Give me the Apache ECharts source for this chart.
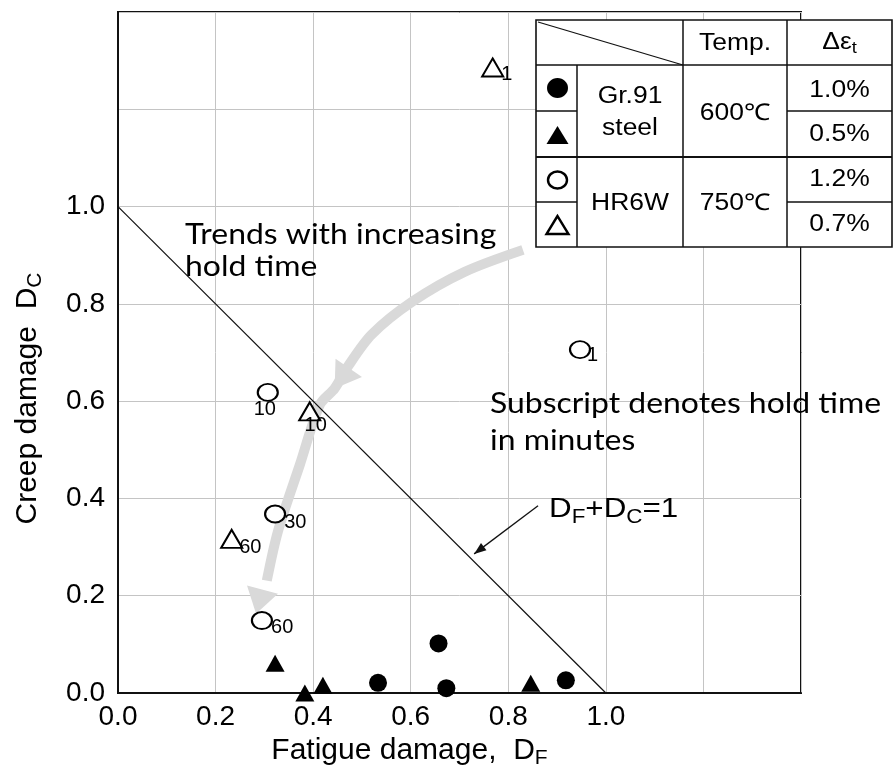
<!DOCTYPE html>
<html><head><meta charset="utf-8">
<script src="https://cdn.jsdelivr.net/npm/echarts@6/dist/echarts.min.js"></script>
<style>html,body{margin:0;padding:0;background:#fff}#c{width:893px;height:781px}</style>
</head><body><div id="c"></div>
<script>
// ---- data ----
const axisTicks = [0.0, 0.2, 0.4, 0.6, 0.8, 1.0];
const gr91Strain10X = [0.657, 0.533, 0.673, 0.918];
const gr91Strain10Y = [0.102, 0.021, 0.010, 0.026];
const gr91Strain05X = [0.322, 0.383, 0.420, 0.846];
const gr91Strain05Y = [0.061, 0.000, 0.016, 0.020];
const hr6wStrain12X = [0.947, 0.307, 0.322, 0.295];
const hr6wStrain12Y = [0.706, 0.618, 0.368, 0.149];
const hr6wStrain12Hold = ['1', '10', '30', '60'];
const hr6wStrain07X = [0.768, 0.393, 0.233];
const hr6wStrain07Y = [1.286, 0.579, 0.317];
const hr6wStrain07Hold = ['1', '10', '60'];
const ruleX = [0, 1];
const ruleY = [1, 0];
const trendX = [0.830, 0.711, 0.604, 0.520, 0.471, 0.444, 0.414, 0.373, 0.328, 0.305, 0.283];
const trendY = [0.911, 0.866, 0.805, 0.737, 0.671, 0.626, 0.593, 0.470, 0.333, 0.231, 0.163];
const ruleArrowX = [0.861, 0.730];
const ruleArrowY = [0.385, 0.286];

// ---- chart ----
const zip = (xs, ys) => xs.map((x, i) => [x, ys[i]]);
const FONT = '"Liberation Sans", Arial, sans-serif';
const CAL = 'Lato, "Open Sans", sans-serif';
const SX = 1.14;
const chart = echarts.init(document.getElementById('c'), null, {renderer: 'canvas'});

// label placement per point (style, not data)
const lab12 = [
  {position: 'right', distance: 0, offset: [-4, 6]},
  {position: 'bottom', distance: 0, offset: [-3, -2]},
  {position: 'right', distance: 0, offset: [-2, 8]},
  {position: 'right', distance: 0, offset: [-2, 7]}
];
const lab07 = [
  {position: 'right', distance: 0, offset: [-3, 7]},
  {position: 'bottom', distance: 0, offset: [6, -6]},
  {position: 'right', distance: 0, offset: [-4, 9]}
];
const labStyle = {fontFamily: FONT, fontSize: 20, color: '#000', textBorderWidth: 0};
const ELLIPSE = 'path://M0,10a10,10 0 1,0 20,0a10,10 0 1,0 -20,0z';

const axisLabelFmt = v => (v <= 1.0001 ? v.toFixed(1) : '');

chart.setOption({
  animation: false,
  backgroundColor: '#fff',
  grid: {left: 118, right: 92, top: 12, bottom: 88, show: true, borderColor: '#111', borderWidth: 2, backgroundColor: 'transparent'},
  xAxis: {
    type: 'value', min: 0, max: 1.4, interval: 0.2,
    axisLine: {show: true, onZero: false, lineStyle: {color: '#111', width: 2}},
    axisTick: {show: false},
    splitLine: {show: true, lineStyle: {color: '#c4c4c4', width: 1}},
    axisLabel: {formatter: axisLabelFmt, fontFamily: FONT, fontSize: 28, color: '#000', margin: 10},
    name: '{m|Fatigue damage,  D}{s|F}',
    nameLocation: 'middle', nameGap: 40,
    nameTextStyle: {
      padding: [0, 100, 0, 0],
      rich: {
        m: {fontFamily: FONT, fontSize: 30, color: '#000'},
        s: {fontFamily: FONT, fontSize: 21, color: '#000', padding: [15, 0, 0, 0]}
      }
    }
  },
  yAxis: {
    type: 'value', min: 0, max: 1.4, interval: 0.2,
    axisLine: {show: true, onZero: false, lineStyle: {color: '#111', width: 2}},
    axisTick: {show: false},
    splitLine: {show: true, lineStyle: {color: '#c4c4c4', width: 1}},
    axisLabel: {formatter: axisLabelFmt, fontFamily: FONT, fontSize: 28, color: '#000', margin: 13},
    name: '{m|Creep damage  D}{s|C}',
    nameLocation: 'middle', nameGap: 72, nameRotate: 90,
    nameTextStyle: {
      padding: [0, 92, 0, 0],
      rich: {
        m: {fontFamily: FONT, fontSize: 30, color: '#000'},
        s: {fontFamily: FONT, fontSize: 21, color: '#000', padding: [15, 0, 0, 0]}
      }
    }
  },
  series: [
    {
      type: 'line', data: zip(ruleX, ruleY), symbol: 'none', silent: true,
      lineStyle: {color: '#111', width: 1.2}, z: 3
    },
    {
      name: 'Gr.91 steel 1.0%', type: 'scatter', data: zip(gr91Strain10X, gr91Strain10Y),
      symbol: 'circle', symbolSize: 18, clip: false,
      itemStyle: {color: '#000', opacity: 1}, z: 5
    },
    {
      name: 'Gr.91 steel 0.5%', type: 'scatter', data: zip(gr91Strain05X, gr91Strain05Y),
      symbol: 'triangle', symbolSize: [19, 17], clip: false,
      itemStyle: {color: '#000', opacity: 1}, z: 5
    },
    {
      name: 'HR6W 1.2%', type: 'scatter', clip: false,
      data: hr6wStrain12X.map((x, i) => ({
        value: [x, hr6wStrain12Y[i]],
        label: Object.assign({show: true, formatter: hr6wStrain12Hold[i]}, labStyle, lab12[i])
      })),
      symbol: ELLIPSE, symbolSize: [20, 17],
      itemStyle: {color: '#fff', borderColor: '#000', borderWidth: 2, opacity: 1}, z: 6
    },
    {
      name: 'HR6W 0.7%', type: 'scatter', clip: false,
      data: hr6wStrain07X.map((x, i) => ({
        value: [x, hr6wStrain07Y[i]],
        label: Object.assign({show: true, formatter: hr6wStrain07Hold[i]}, labStyle, lab07[i])
      })),
      symbol: 'triangle', symbolSize: [21, 18],
      itemStyle: {color: '#fff', borderColor: '#000', borderWidth: 2, opacity: 1}, z: 6
    }
  ]
});

// ---- annotations (built from data coords) ----
const px = (x, y) => chart.convertToPixel({gridIndex: 0}, [x, y]);
const trendPts = trendX.map((x, i) => px(x, trendY[i]));
const midTip = 5;
function head(tip, from, len, half) {
  const dx = tip[0] - from[0], dy = tip[1] - from[1];
  const L = Math.hypot(dx, dy), ux = dx / L, uy = dy / L;
  const bx = tip[0] - ux * len, by = tip[1] - uy * len;
  return [[tip[0], tip[1]], [bx - uy * half, by + ux * half], [bx + uy * half, by - ux * half]];
}
const GRAY = '#d9d9d9';
const g = [];
g.push({type: 'polyline', shape: {points: trendPts.slice(0, trendPts.length - 1), smooth: 0.3},
  style: {stroke: GRAY, lineWidth: 10, fill: null}, z: 2});
g.push({type: 'polygon', shape: {points: head(trendPts[midTip], trendPts[midTip - 2], 25, 16)}, style: {fill: GRAY}, z: 2});
g.push({type: 'polygon', shape: {points: head(trendPts[trendPts.length - 1], trendPts[trendPts.length - 3], 25, 16)}, style: {fill: GRAY}, z: 2});

const a0 = px(ruleArrowX[0], ruleArrowY[0]), a1 = px(ruleArrowX[1], ruleArrowY[1]);
g.push({type: 'line', shape: {x1: a0[0], y1: a0[1], x2: a1[0], y2: a1[1]}, style: {stroke: '#111', lineWidth: 1.3}, z: 7});
g.push({type: 'polygon', shape: {points: head(a1, a0, 12, 4.5)}, style: {fill: '#111'}, z: 7});

// text annotations
g.push({type: 'text', x: 185, y: 219, scaleX: SX, z: 8,
  style: {text: 'Trends with increasing\nhold time', font: '28px ' + CAL, fill: '#000', lineHeight: 32}});
g.push({type: 'text', x: 490, y: 385, scaleX: SX, z: 8,
  style: {text: 'Subscript denotes hold time\nin minutes', font: '28px ' + CAL, fill: '#000', lineHeight: 37}});
g.push({type: 'text', x: 549, y: 492, scaleX: 1.12, z: 8,
  style: {text: '{m|D}{s|F}{m|+D}{s|C}{m|=1}', rich: {
    m: {fontFamily: FONT, fontSize: 28, fill: '#000'},
    s: {fontFamily: FONT, fontSize: 20, fill: '#000', padding: [15, 0, 0, 0]}
  }}});

// legend table
const TX = [536, 577, 683, 787, 892];
const TY = [20, 65, 111, 157, 202, 247];
g.push({type: 'rect', shape: {x: TX[0], y: TY[0], width: TX[4] - TX[0], height: TY[5] - TY[0]},
  style: {fill: '#fff', stroke: '#111', lineWidth: 1.6}, z: 20});
const L = (x1, y1, x2, y2, w) => g.push({type: 'line', shape: {x1, y1, x2, y2}, style: {stroke: '#111', lineWidth: w || 1.5}, z: 21});
L(TX[1], TY[1], TX[1], TY[5]);
L(TX[2], TY[0], TX[2], TY[5]);
L(TX[3], TY[0], TX[3], TY[5]);
L(TX[0], TY[1], TX[4], TY[1]);
L(TX[0], TY[3], TX[4], TY[3], 2);
L(TX[0], TY[2], TX[1], TY[2]); L(TX[3], TY[2], TX[4], TY[2]);
L(TX[0], TY[4], TX[1], TY[4]); L(TX[3], TY[4], TX[4], TY[4]);
L(TX[0] + 2, TY[0] + 2, TX[2], TY[1], 1.3);
const T = (x, y, text, extra) => {
  const el = {type: 'text', x, y, scaleX: 1.15, z: 22,
    style: Object.assign({text, font: '23px ' + FONT, fill: '#000', align: 'center', verticalAlign: 'middle'}, extra || {})};
  g.push(el);
};
const cx2 = (TX[1] + TX[2]) / 2, cx3 = (TX[2] + TX[3]) / 2, cx4 = (TX[3] + TX[4]) / 2;
T(cx3, 44, 'Temp.');
T(cx4, 43, '{m|Δε}{s|t}', {rich: {m: {fontFamily: FONT, fontSize: 23, fill: '#000'}, s: {fontFamily: FONT, fontSize: 16, fill: '#000', padding: [12, 0, 0, 0]}}});
T(cx2, 113, 'Gr.91\nsteel', {lineHeight: 32});
T(cx3, 114, '600℃');
T(cx2, 204, 'HR6W');
T(cx3, 204, '750℃');
T(cx4, 91, '1.0%');
T(cx4, 135, '0.5%');
T(cx4, 180, '1.2%');
T(cx4, 225, '0.7%');
const mx = (TX[0] + TX[1]) / 2 + 1;
g.push({type: 'ellipse', shape: {cx: mx, cy: 88, rx: 10.5, ry: 10}, style: {fill: '#000'}, z: 22});
g.push({type: 'polygon', shape: {points: [[mx, 126], [mx - 11, 144], [mx + 11, 144]]}, style: {fill: '#000'}, z: 22});
g.push({type: 'ellipse', shape: {cx: mx, cy: 180, rx: 9.5, ry: 8.5}, style: {fill: '#fff', stroke: '#000', lineWidth: 2.4}, z: 22});
g.push({type: 'polygon', shape: {points: [[mx, 216], [mx - 11, 234], [mx + 11, 234]]}, style: {fill: '#fff', stroke: '#000', lineWidth: 2.4}, z: 22});

chart.setOption({graphic: g});
</script>
</body></html>
